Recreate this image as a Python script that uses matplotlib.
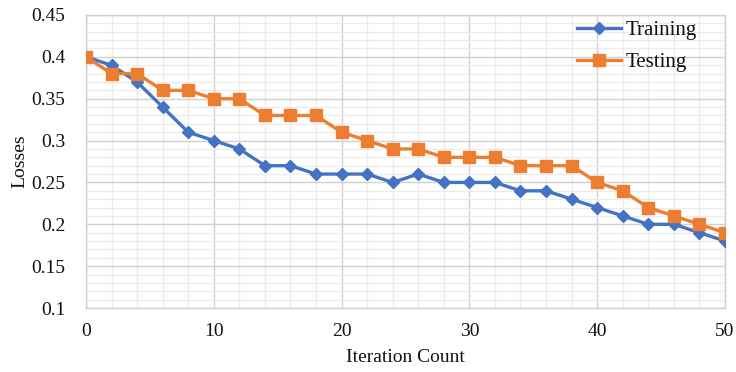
import matplotlib
matplotlib.use("Agg")
import matplotlib.pyplot as plt
from matplotlib.ticker import MultipleLocator

iterations = [0, 2, 4, 6, 8, 10, 12, 14, 16, 18, 20, 22, 24, 26, 28, 30, 32, 34, 36, 38, 40, 42, 44, 46, 48, 50]
training = [0.40, 0.39, 0.37, 0.34, 0.31, 0.30, 0.29, 0.27, 0.27, 0.26, 0.26, 0.26, 0.25, 0.26, 0.25, 0.25, 0.25,
            0.24, 0.24, 0.23, 0.22, 0.21, 0.20, 0.20, 0.19, 0.18]
testing = [0.40, 0.38, 0.38, 0.36, 0.36, 0.35, 0.35, 0.33, 0.33, 0.33, 0.31, 0.30, 0.29, 0.29, 0.28, 0.28, 0.28,
           0.27, 0.27, 0.27, 0.25, 0.24, 0.22, 0.21, 0.20, 0.19]
y_ticks = [0.1, 0.15, 0.2, 0.25, 0.3, 0.35, 0.4, 0.45]
y_tick_labels = ["0.1", "0.15", "0.2", "0.25", "0.3", "0.35", "0.4", "0.45"]
x_ticks = [0, 10, 20, 30, 40, 50]

plt.rcParams["font.family"] = ["Liberation Serif", "DejaVu Serif"]

fig = plt.figure(figsize=(7.36, 3.72), dpi=100)
ax = fig.add_axes([0.1168, 0.172, 0.8682, 0.7877])

ax.plot(iterations, training, color="#4472C4", lw=2.4, marker="D", ms=6.5,
        label="Training", zorder=3)
ax.plot(iterations, testing, color="#ED7D31", lw=2.4, marker="s", ms=9,
        label="Testing", zorder=4)

ax.set_xlim(0, 50)
ax.set_ylim(0.1, 0.45)
ax.set_xticks(x_ticks)
ax.set_xticklabels([str(v) for v in x_ticks])
ax.set_yticks(y_ticks)
ax.set_yticklabels(y_tick_labels)
ax.xaxis.set_minor_locator(MultipleLocator(2))
ax.yaxis.set_minor_locator(MultipleLocator(0.01))

ax.grid(which="major", color="#D0D0D0", lw=1.0, zorder=0)
ax.grid(which="minor", color="#EBEBEB", lw=0.9, zorder=0)
ax.set_axisbelow(True)

ax.tick_params(which="both", length=0, labelsize=14, colors="#111111")
ax.tick_params(axis="x", pad=11)
ax.tick_params(axis="y", pad=15)
for s in ax.spines.values():
    s.set_color("#D0D0D0")
    s.set_linewidth(1.0)

ax.set_xlabel("Iteration Count", fontsize=14, color="#111111", labelpad=6)
ax.set_ylabel("Losses", fontsize=14, color="#111111", labelpad=2)

leg = ax.legend(loc="upper right", bbox_to_anchor=(0.985, 1.045), frameon=False, fontsize=15,
                handlelength=2.1, labelspacing=0.6, handletextpad=0.2)
for t in leg.get_texts():
    t.set_color("#111111")

fig.savefig("out.png", dpi=100)
